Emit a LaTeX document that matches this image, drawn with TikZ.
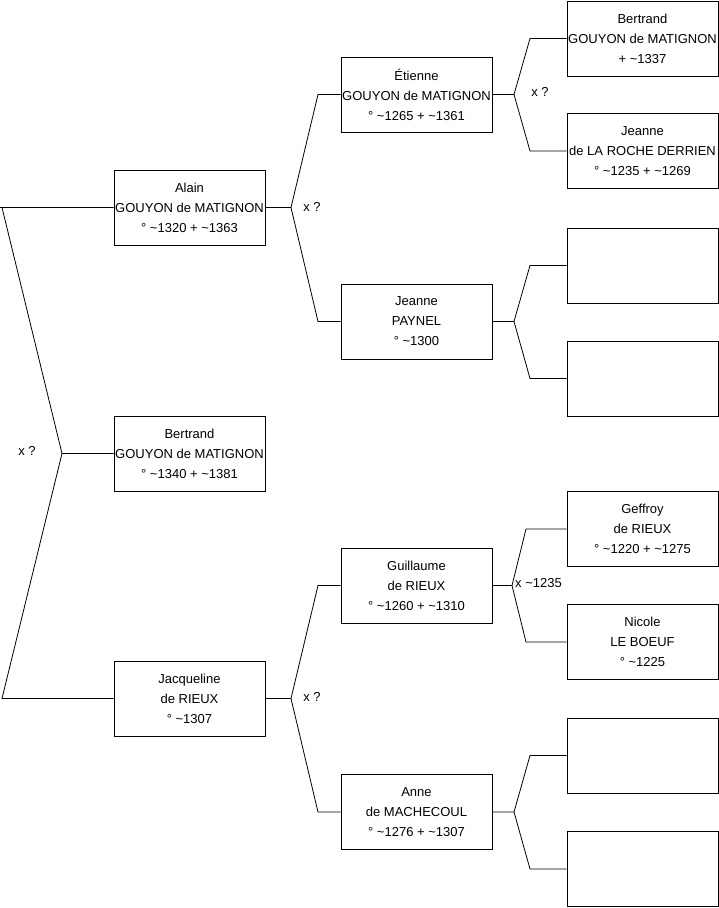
\documentclass[tikz,border=0pt]{standalone}
\usepackage{fontspec}
\setmainfont{Liberation Sans}
\usetikzlibrary{positioning}

\begin{document}
\begin{tikzpicture}[x=1pt, y=-1pt,
  person/.style={draw, line width=0.9pt, minimum width=151pt, minimum height=75pt,
    inner sep=0pt, align=center, font=\fontsize{13}{20}\selectfont},
  link/.style={line width=0.8pt},
  tag/.style={inner sep=0pt, font=\fontsize{13}{15}\selectfont}]
  \useasboundingbox (0,0) rectangle (719,908);
  % generation 1
  \node[person] (alain) at (189.5,207.5) {Alain\\GOUYON de MATIGNON\\° \textasciitilde1320 + \textasciitilde1363};
  \node[person] (bertrand) at (189.5,453.5) {Bertrand\\GOUYON de MATIGNON\\° \textasciitilde1340 + \textasciitilde1381};
  \node[person] (jacqueline) at (189.5,698.5) {Jacqueline\\de RIEUX\\° \textasciitilde1307};
  % generation 2
  \node[person] (etienne) at (416.5,94.5) {Étienne\\GOUYON de MATIGNON\\° \textasciitilde1265 + \textasciitilde1361};
  \node[person] (paynel) at (416.5,321.5) {Jeanne\\PAYNEL\\° \textasciitilde1300};
  \node[person] (guillaume) at (416.5,585.5) {Guillaume\\de RIEUX\\° \textasciitilde1260 + \textasciitilde1310};
  \node[person] (anne) at (416.5,812) {Anne\\de MACHECOUL\\° \textasciitilde1276 + \textasciitilde1307};
  % generation 3
  \node[person] (bertrandold) at (642.5,38.5) {Bertrand\\GOUYON de MATIGNON\\+ \textasciitilde1337};
  \node[person] (rochederrien) at (642.5,151) {Jeanne\\de LA ROCHE DERRIEN\\° \textasciitilde1235 + \textasciitilde1269};
  \node[person] (paynelf) at (642.5,265.5) {};
  \node[person] (paynelm) at (642.5,378.5) {};
  \node[person] (geffroy) at (642.5,529) {Geffroy\\de RIEUX\\° \textasciitilde1220 + \textasciitilde1275};
  \node[person] (nicole) at (642.5,642) {Nicole\\LE BOEUF\\° \textasciitilde1225};
  \node[person] (machecoulf) at (642.5,755.5) {};
  \node[person] (machecoulm) at (642.5,869) {};

  % forks
  \coordinate (k0) at (62,453.5);
  \draw[link] (bertrand.west) -- (k0) -- (2,207.5) -- (alain.west);
  \draw[link] (k0) -- (2,698.5) -- (jacqueline.west);
  \draw[link] (0,207.5) -- (2,207.5);
  \node[tag] (x0) at (27,451) {x ?};

  \coordinate (k1) at (291,207.5);
  \draw[link] (alain.east) -- (k1) -- (318,94.5) -- (etienne.west);
  \draw[link] (k1) -- (318,321.5) -- (paynel.west);
  \node[tag] (x1) at (312,207) {x ?};

  \coordinate (k2) at (291,698.5);
  \draw[link] (jacqueline.east) -- (k2) -- (318,585.5) -- (guillaume.west);
  \draw[link] (k2) -- (318,812) -- (anne.west);
  \node[tag] (x2) at (312,697) {x ?};

  \coordinate (k3) at (514,94.5);
  \draw[link] (etienne.east) -- (k3) -- (530,38.5) -- (bertrandold.west);
  \draw[link] (k3) -- (530,151) -- (rochederrien.west);
  \node[tag] (x3) at (540,92) {x ?};

  \coordinate (k4) at (514,321.5);
  \draw[link] (paynel.east) -- (k4) -- (530,265.5) -- (paynelf.west);
  \draw[link] (k4) -- (530,378.5) -- (paynelm.west);

  \coordinate (k5) at (512,585.5);
  \draw[link] (guillaume.east) -- (k5) -- (526,529) -- (geffroy.west);
  \draw[link] (k5) -- (526,642) -- (nicole.west);
  \node[tag, anchor=west] (x5) at (515,583) {x \textasciitilde1235};

  \coordinate (k6) at (514,812);
  \draw[link] (anne.east) -- (k6) -- (530,755.5) -- (machecoulf.west);
  \draw[link] (k6) -- (530,869) -- (machecoulm.west);
\end{tikzpicture}
\end{document}
